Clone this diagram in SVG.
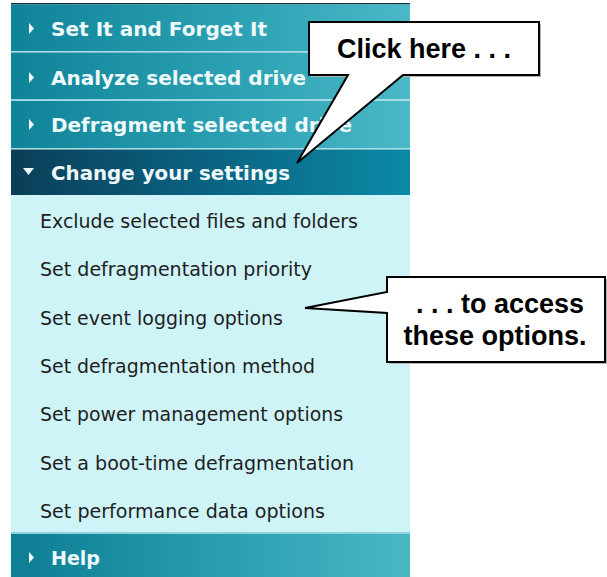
<svg xmlns="http://www.w3.org/2000/svg" width="607" height="577" viewBox="0 0 607 577">
<defs>
<linearGradient id="gHead" x1="0" y1="0" x2="1" y2="0">
<stop offset="0" stop-color="#0f8398"/>
<stop offset="0.6" stop-color="#2ea3b5"/>
<stop offset="1" stop-color="#4bb8c6"/>
</linearGradient>
<linearGradient id="gDark" x1="0" y1="0" x2="1" y2="0">
<stop offset="0" stop-color="#0b3e58"/>
<stop offset="0.5" stop-color="#0a6382"/>
<stop offset="1" stop-color="#0b8aa6"/>
</linearGradient>
<linearGradient id="gHelp" x1="0" y1="0" x2="1" y2="0">
<stop offset="0" stop-color="#0c7d93"/>
<stop offset="0.6" stop-color="#2ea2b4"/>
<stop offset="1" stop-color="#4ab6c4"/>
</linearGradient>
</defs>
<style>
.hd{font-family:"DejaVu Sans",Verdana,sans-serif;font-weight:bold;font-size:20px;fill:#eef9fb}
.it{font-family:"DejaVu Sans",Tahoma,sans-serif;font-size:19px;fill:#1e1e1e}
.tri{fill:#f2fbfc}
.sep{stroke:#a6dde5;stroke-width:1.5}
.co{fill:#ffffff;stroke:#000000;stroke-width:2;stroke-linejoin:miter}
.sh{fill:#b5b5b5}
.ct{font-family:"Liberation Sans",Arial,sans-serif;font-weight:bold;font-size:27px;fill:#000000;text-anchor:middle}
</style>
<rect width="607" height="577" fill="#ffffff"/>
<g id="panel">
<rect x="11" y="3" width="399" height="1.5" fill="#0a3344"/>
<rect x="11" y="195" width="399" height="338" fill="#cff4f8"/>
</g>
<g id="header-set-it">
<rect x="11" y="4.5" width="399" height="46.5" fill="url(#gHead)"/>
<polygon class="tri" points="29,23 29,34 34,28.5"/>
<text class="hd" x="51" y="36" textLength="216" lengthAdjust="spacingAndGlyphs">Set It and Forget It</text>
</g>
<line class="sep" x1="11" y1="51.7" x2="410" y2="51.7"/>
<g id="header-analyze">
<rect x="11" y="52.5" width="399" height="47" fill="url(#gHead)"/>
<polygon class="tri" points="29,72 29,83 34,77.5"/>
<text class="hd" x="51" y="85" textLength="255" lengthAdjust="spacingAndGlyphs">Analyze selected drive</text>
</g>
<line class="sep" x1="11" y1="100.2" x2="410" y2="100.2"/>
<g id="header-defragment">
<rect x="11" y="101" width="399" height="47" fill="url(#gHead)"/>
<polygon class="tri" points="29,119 29,130 34,124.5"/>
<text class="hd" x="51" y="132" textLength="301" lengthAdjust="spacingAndGlyphs">Defragment selected drive</text>
</g>
<line class="sep" x1="11" y1="148.8" x2="410" y2="148.8"/>
<g id="header-change">
<rect x="11" y="149.5" width="399" height="45.5" fill="url(#gDark)"/>
<polygon class="tri" points="23,168 34,168 28.5,175"/>
<text class="hd" x="51" y="180" textLength="239" lengthAdjust="spacingAndGlyphs">Change your settings</text>
</g>
<g id="items">
<text class="it" x="40" y="228" textLength="318" lengthAdjust="spacingAndGlyphs">Exclude selected files and folders</text>
<text class="it" x="40" y="276" textLength="272" lengthAdjust="spacingAndGlyphs">Set defragmentation priority</text>
<text class="it" x="40" y="325" textLength="243" lengthAdjust="spacingAndGlyphs">Set event logging options</text>
<text class="it" x="40" y="373" textLength="275" lengthAdjust="spacingAndGlyphs">Set defragmentation method</text>
<text class="it" x="40" y="421" textLength="303" lengthAdjust="spacingAndGlyphs">Set power management options</text>
<text class="it" x="40" y="470" textLength="314" lengthAdjust="spacingAndGlyphs">Set a boot-time defragmentation</text>
<text class="it" x="40" y="518" textLength="285" lengthAdjust="spacingAndGlyphs">Set performance data options</text>
</g>
<g id="header-help">
<rect x="11" y="532" width="399" height="3" fill="#8fd2dc"/>
<rect x="11" y="534" width="399" height="43" fill="url(#gHelp)"/>
<polygon class="tri" points="29,552 29,563 34,557.5"/>
<text class="hd" x="51" y="565" textLength="49" lengthAdjust="spacingAndGlyphs">Help</text>
</g>
<g id="connectors"></g>
<g id="callout-click">
<rect class="sh" x="311" y="24" width="230" height="53"/>
<path class="co" d="M309,22 H539 V75 H403 L297,163 L348,75 H309 Z"/>
<text class="ct" x="424" y="58">Click here . . .</text>
</g>
<g id="callout-access">
<rect class="sh" x="389" y="279" width="218" height="85"/>
<path class="co" d="M387,277 H605 V362 H387 V313 L305,308 L387,292 Z"/>
<text class="ct" x="500" y="313">. . . to access</text>
<text class="ct" x="495" y="345">these options.</text>
</g>
</svg>
